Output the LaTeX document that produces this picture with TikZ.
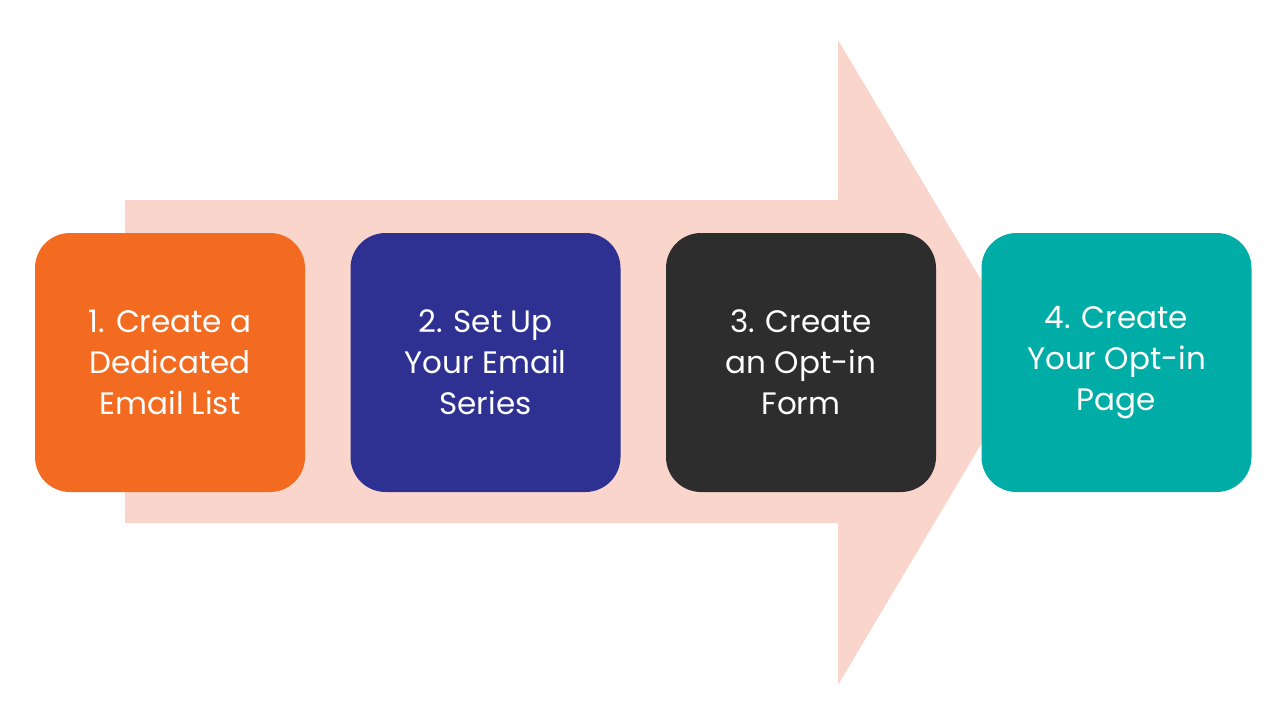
\documentclass[tikz,border=0pt]{standalone}
\usepackage{fontspec}
\setmainfont{Poppins}
\definecolor{arrowc}{HTML}{F9D5CC}
\definecolor{c1}{HTML}{F26B21}
\definecolor{c2}{HTML}{2E3192}
\definecolor{c3}{HTML}{2D2D2D}
\definecolor{c4}{HTML}{00ADA6}
\tikzset{stepbox/.style={fill=#1,rounded corners=35pt,minimum width=270pt,minimum height=259pt,text=white,align=center,font=\fontsize{31}{41}\selectfont,inner sep=0pt}}
\begin{document}
\begin{tikzpicture}[x=1pt,y=-1pt]
\useasboundingbox (0,0) rectangle (1280,720);
\fill[arrowc] (125,200) -- (838,200) -- (838,40) -- (1030,362) -- (838,685) -- (838,523) -- (125,523) -- cycle;
\node[stepbox=c1] (s1) at (170,362.5) {1. Create a\\Dedicated\\Email List};
\node[stepbox=c2] (s2) at (485.5,362.5) {2. Set Up\\Your Email\\Series};
\node[stepbox=c3] (s3) at (801,362.5) {3. Create\\an Opt-in\\Form};
\node[stepbox=c4] (s4) at (1116.5,362.5) {4. Create\\Your Opt-in\\Page};
\end{tikzpicture}
\end{document}
